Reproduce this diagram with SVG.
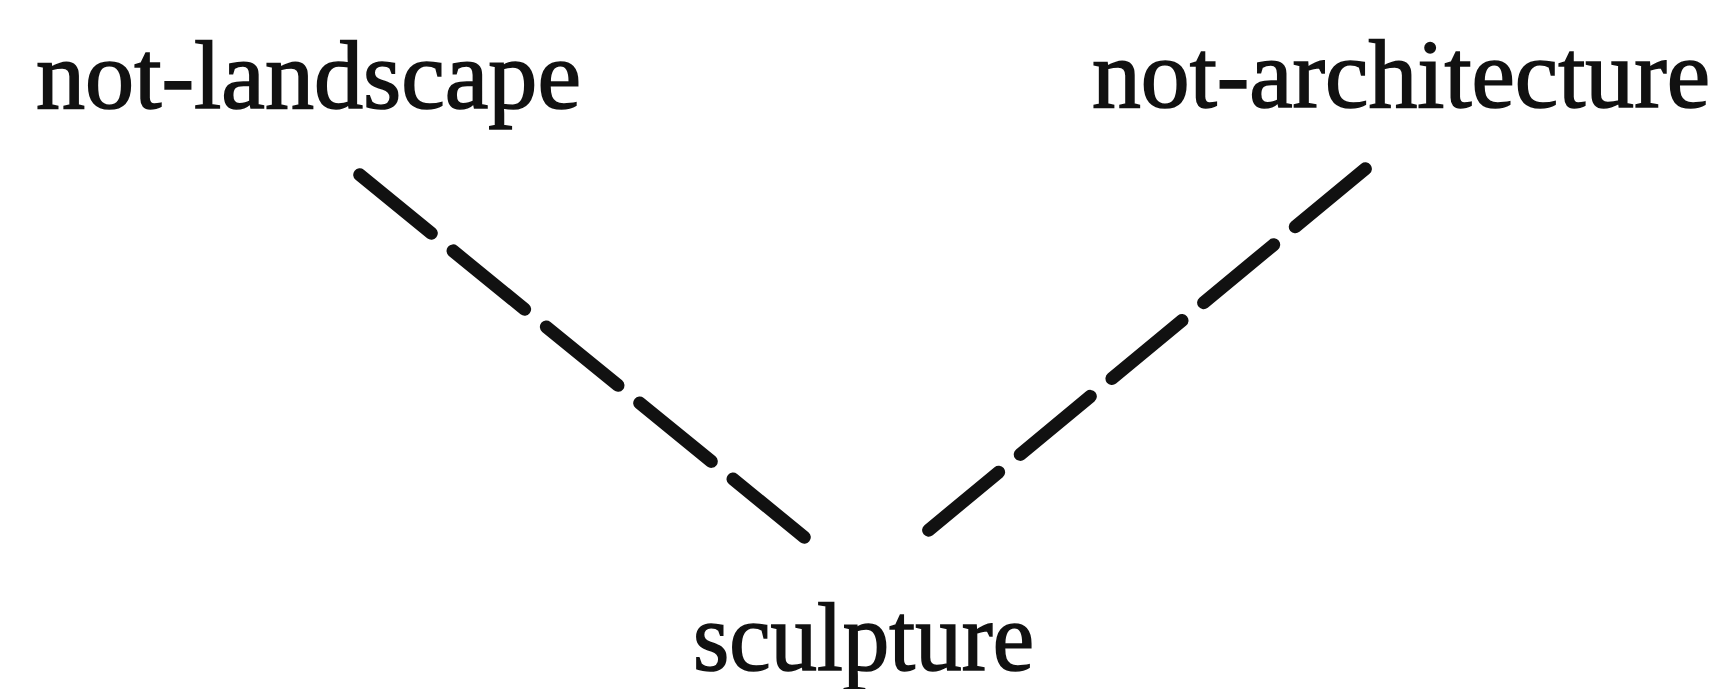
<svg xmlns="http://www.w3.org/2000/svg" width="1730" height="689" viewBox="0 0 1730 689">
  <style>
    .lbl{font-family:"Liberation Serif","Times New Roman",serif;font-size:97px;fill:#111;stroke:#111;stroke-width:1.6;}
    .dash{stroke:#111;stroke-width:13;stroke-linecap:round;fill:none;}
    .dl{stroke-dasharray:92.4 28;}
    .dr{stroke-dasharray:91 28;}
  </style>
  <rect x="0" y="0" width="1730" height="689" fill="#fff"/>
  <g id="connectors">
    <line class="dash dl" x1="359.7" y1="174.8" x2="804.3" y2="537.2"/>
    <line class="dash dr" x1="1365.4" y1="168.8" x2="928.6" y2="530.2"/>
  </g>
  <g id="node-not-landscape">
    <text class="lbl" x="36" y="108" textLength="545" lengthAdjust="spacingAndGlyphs">not-landscape</text>
  </g>
  <g id="node-not-architecture">
    <text class="lbl" x="1092" y="107" textLength="618" lengthAdjust="spacingAndGlyphs">not-architecture</text>
  </g>
  <g id="node-sculpture">
    <text class="lbl" x="693" y="670" textLength="341" lengthAdjust="spacingAndGlyphs">sculpture</text>
  </g>
</svg>
